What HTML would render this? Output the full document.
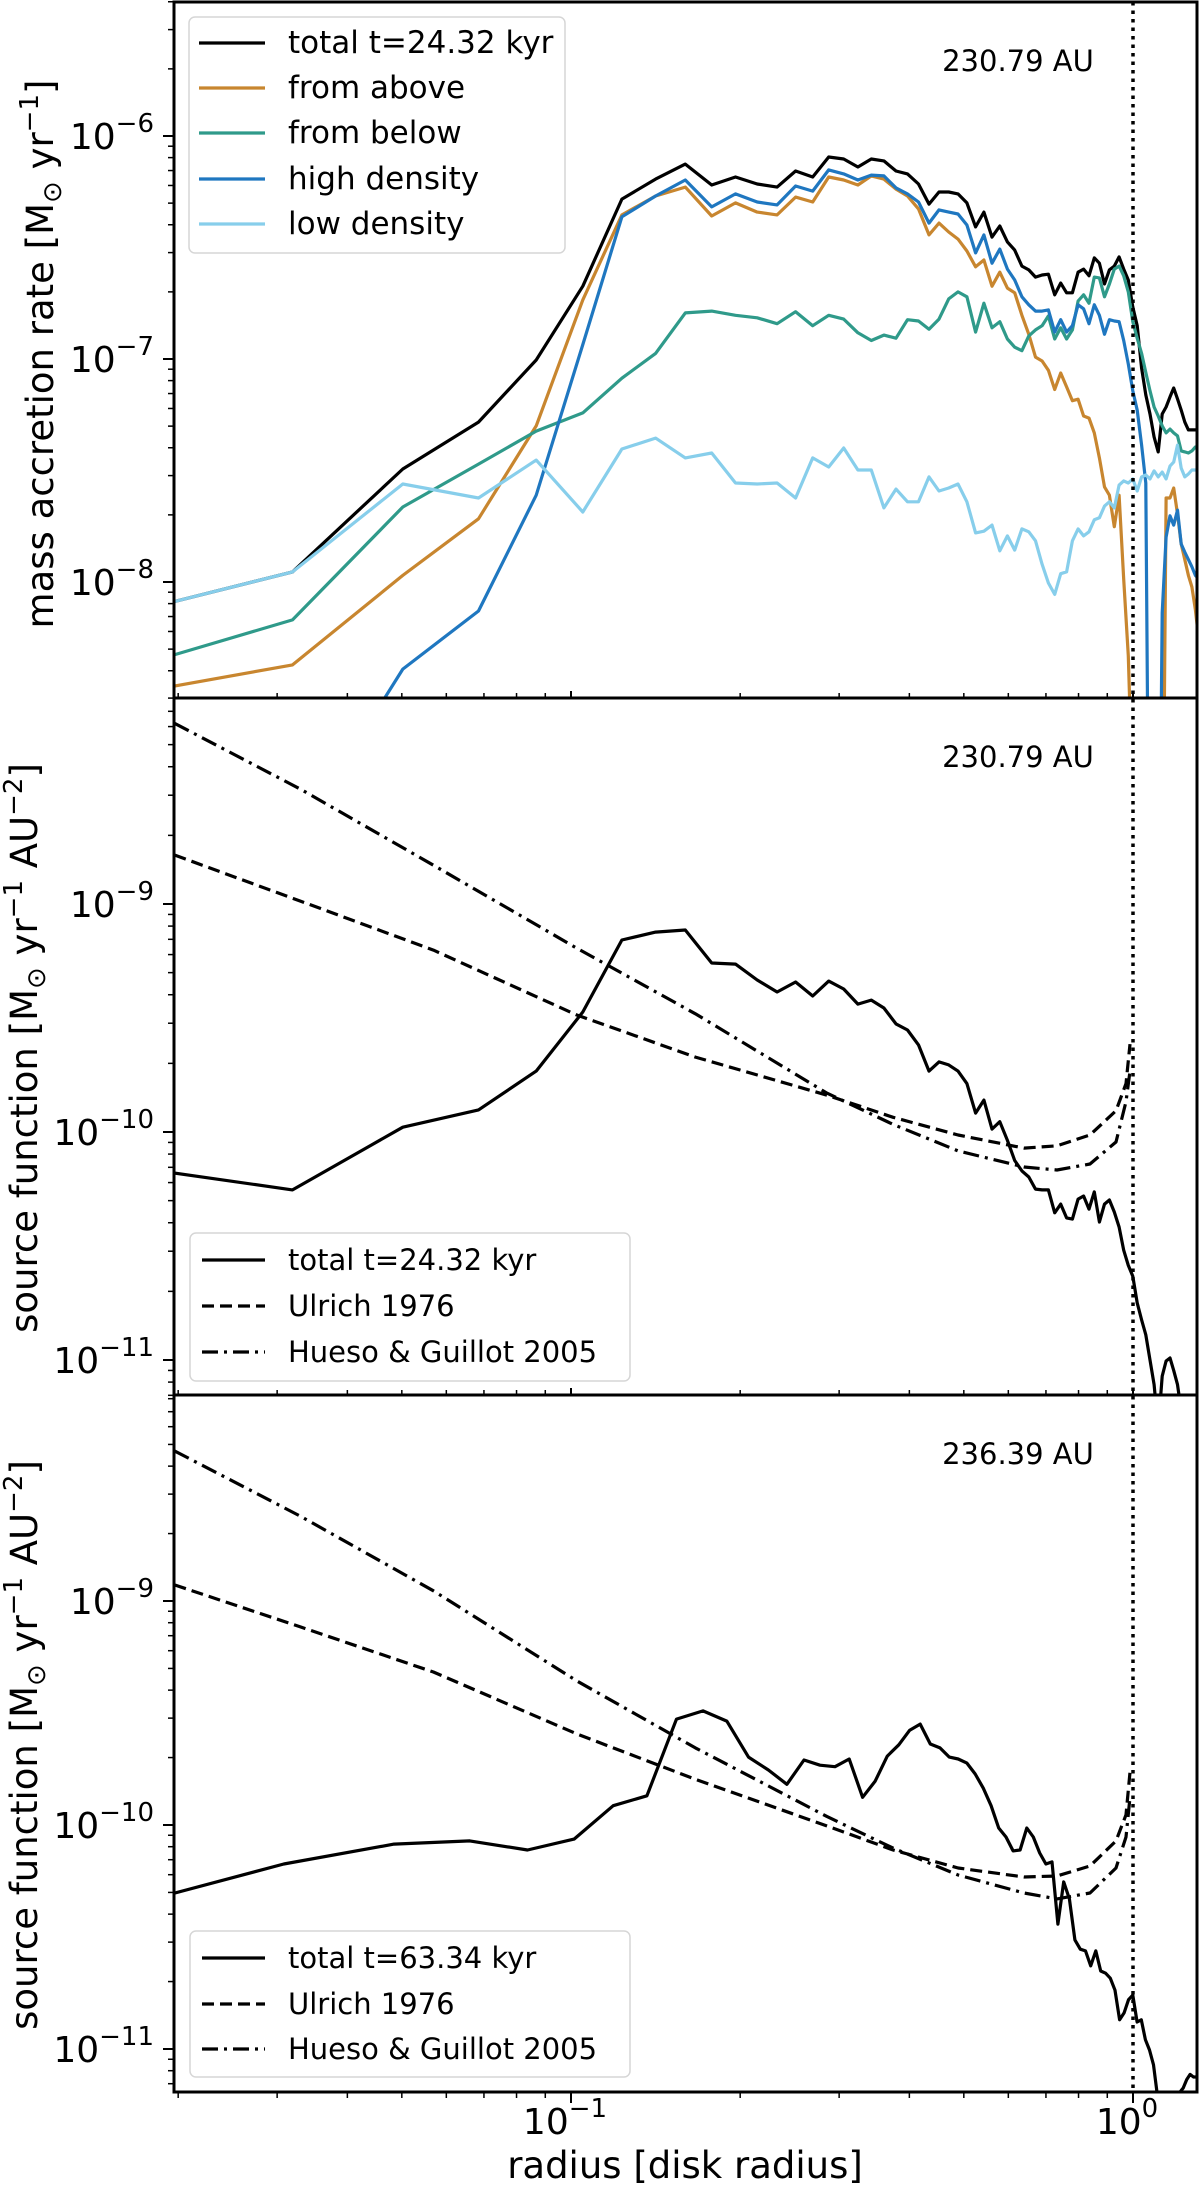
<!DOCTYPE html>
<html>
<head>
<meta charset="utf-8">
<style>
html,body{margin:0;padding:0;background:#fff;}
svg{display:block;}
text{font-family:"DejaVu Sans","Liberation Sans",sans-serif;fill:#000;}
</style>
</head>
<body>
<svg id="fig" xmlns="http://www.w3.org/2000/svg" width="1200" height="2186" viewBox="0 0 1200 2186">
  <rect x="0" y="0" width="1200" height="2186" fill="#fff"/>
  <defs>
    <clipPath id="clip0"><rect x="174" y="2" width="1023" height="696"/></clipPath>
    <clipPath id="clip1"><rect x="174" y="698" width="1023" height="697"/></clipPath>
    <clipPath id="clip2"><rect x="174" y="1395" width="1023" height="697"/></clipPath>
  </defs>
  <g id="series-layer"></g>
  <g id="axes-layer"></g>

  <text transform="translate(53,354) rotate(-90)" text-anchor="middle" font-size="37">mass accretion rate [M<tspan font-size="26" dy="8">⊙</tspan><tspan dy="-8"> yr</tspan><tspan font-size="26" dy="-15">−1</tspan><tspan dy="15">]</tspan></text>
  <text transform="translate(37,1048) rotate(-90)" text-anchor="middle" font-size="37">source function [M<tspan font-size="26" dy="8">⊙</tspan><tspan dy="-8"> yr</tspan><tspan font-size="26" dy="-15">−1</tspan><tspan dy="15"> AU</tspan><tspan font-size="26" dy="-15">−2</tspan><tspan dy="15">]</tspan></text>
  <text transform="translate(37,1745) rotate(-90)" text-anchor="middle" font-size="37">source function [M<tspan font-size="26" dy="8">⊙</tspan><tspan dy="-8"> yr</tspan><tspan font-size="26" dy="-15">−1</tspan><tspan dy="15"> AU</tspan><tspan font-size="26" dy="-15">−2</tspan><tspan dy="15">]</tspan></text>

  <text x="685" y="2178" text-anchor="middle" font-size="37">radius [disk radius]</text>

  <text x="1018" y="71" text-anchor="middle" font-size="29">230.79 AU</text>
  <text x="1018" y="767" text-anchor="middle" font-size="29">230.79 AU</text>
  <text x="1018" y="1464" text-anchor="middle" font-size="29">236.39 AU</text>

  <g>
    <rect x="189" y="17" width="376" height="236" rx="6" fill="#fff" fill-opacity="0.85" stroke="#d6d6d6" stroke-width="1.5"/>
    <g><line x1="199" y1="43" x2="265" y2="43" stroke="#000" stroke-width="3.2"/><text x="288" y="53" font-size="31">total t=24.32 kyr</text></g>
    <g><line x1="199" y1="88" x2="265" y2="88" stroke="#c8862f" stroke-width="3.2"/><text x="288" y="98" font-size="31">from above</text></g>
    <g><line x1="199" y1="133" x2="265" y2="133" stroke="#2f9a8a" stroke-width="3.2"/><text x="288" y="143" font-size="31">from below</text></g>
    <g><line x1="199" y1="179" x2="265" y2="179" stroke="#1f77c0" stroke-width="3.2"/><text x="288" y="189" font-size="31">high density</text></g>
    <g><line x1="199" y1="224" x2="265" y2="224" stroke="#87ceeb" stroke-width="3.2"/><text x="288" y="234" font-size="31">low density</text></g>
  </g>

  <g>
    <rect x="190" y="1233" width="440" height="148" rx="6" fill="#fff" fill-opacity="0.85" stroke="#d6d6d6" stroke-width="1.5"/>
    <g><line x1="202" y1="1260" x2="265" y2="1260" stroke="#000" stroke-width="3.2"/><text x="288" y="1270" font-size="29">total t=24.32 kyr</text></g>
    <g><line x1="202" y1="1306" x2="265" y2="1306" stroke="#000" stroke-width="3.2" stroke-dasharray="12,6"/><text x="288" y="1316" font-size="29">Ulrich 1976</text></g>
    <g><line x1="202" y1="1352" x2="265" y2="1352" stroke="#000" stroke-width="3.2" stroke-dasharray="16,6,3,6"/><text x="288" y="1362" font-size="29">Hueso &amp; Guillot 2005</text></g>
  </g>

  <g>
    <rect x="190" y="1931" width="440" height="146" rx="6" fill="#fff" fill-opacity="0.85" stroke="#d6d6d6" stroke-width="1.5"/>
    <g><line x1="202" y1="1958" x2="265" y2="1958" stroke="#000" stroke-width="3.2"/><text x="288" y="1968" font-size="29">total t=63.34 kyr</text></g>
    <g><line x1="202" y1="2004" x2="265" y2="2004" stroke="#000" stroke-width="3.2" stroke-dasharray="12,6"/><text x="288" y="2014" font-size="29">Ulrich 1976</text></g>
    <g><line x1="202" y1="2049" x2="265" y2="2049" stroke="#000" stroke-width="3.2" stroke-dasharray="16,6,3,6"/><text x="288" y="2059" font-size="29">Hueso &amp; Guillot 2005</text></g>
  </g>
</svg>

<script>
const radiusGrid = [0.0137,0.03195,0.0502,0.06845,0.0867,0.10495,0.1232,0.14145,0.1597,0.17795,0.1962,0.21445,0.2327,0.25095,0.2692,0.28745,0.3057,0.32395,0.3422,0.36045,0.3787,0.39695,0.4152,0.43345,0.4517,0.46995,0.4882,0.50645,0.5247,0.54295,0.5612,0.57945,0.5977,0.61595,0.6342,0.65245,0.6707,0.68895,0.7072,0.72545,0.7437,0.76195,0.7802,0.79845,0.8167,0.83495,0.8532,0.87145,0.8897,0.90795,0.9262,0.94445,0.9627,0.98095,0.9992,1.01745,1.0357,1.05395,1.0722,1.09045,1.1087,1.12695,1.1452,1.16345,1.1817,1.19995,1.2182,1.23645,1.2547,1.27295,1.2912,1.30945];

const accTotal = [6.5e-9,1.11e-8,3.21e-8,5.21e-8,9.9e-8,2.12e-7,5.21e-7,6.41e-7,7.48e-7,6.03e-7,6.55e-7,6.09e-7,5.90e-7,6.97e-7,6.55e-7,8.05e-7,7.89e-7,7.26e-7,7.89e-7,7.73e-7,6.97e-7,6.76e-7,6.09e-7,4.95e-7,5.61e-7,5.61e-7,5.50e-7,5.01e-7,3.91e-7,4.56e-7,3.52e-7,3.95e-7,3.35e-7,3.08e-7,2.61e-7,2.51e-7,2.33e-7,2.38e-7,2.40e-7,1.94e-7,2.19e-7,1.98e-7,1.98e-7,2.45e-7,2.53e-7,2.36e-7,2.84e-7,2.69e-7,2.17e-7,2.51e-7,2.61e-7,2.87e-7,2.53e-7,2.26e-7,1.71e-7,1.41e-7,9.1e-8,6.9e-8,5.67e-8,4.47e-8,3.83e-8,5.67e-8,6.09e-8,6.76e-8,7.41e-8,6.62e-8,5.90e-8,5.21e-8,4.81e-8,4.81e-8,4.81e-8,4.81e-8];

const accAbove = [2.9e-9,4.25e-9,1.07e-8,1.92e-8,5.01e-8,1.84e-7,4.43e-7,5.38e-7,5.90e-7,4.38e-7,5.01e-7,4.56e-7,4.43e-7,5.32e-7,5.06e-7,6.55e-7,6.35e-7,6.03e-7,6.62e-7,6.41e-7,5.78e-7,5.38e-7,4.71e-7,3.60e-7,4.07e-7,3.71e-7,3.45e-7,3.05e-7,2.59e-7,2.78e-7,2.12e-7,2.45e-7,2.08e-7,1.98e-7,1.57e-7,1.29e-7,1.02e-7,9.8e-8,8.9e-8,7.3e-8,8.65e-8,7.5e-8,6.5e-8,6.6e-8,5.55e-8,5.43e-8,4.66e-8,3.60e-8,2.67e-8,2.45e-8,1.77e-8,2.45e-8,1.03e-8,4.66e-9,1e-9,3e-10,1e-10,1e-10,1e-10,1e-10,1e-10,2e-10,2.38e-8,2.38e-8,2.64e-8,2.02e-8,1.48e-8,1.26e-8,1.07e-8,9.5e-9,7.5e-9,5.5e-9];

const accBelow = [3.6e-9,6.76e-9,2.17e-8,3.38e-8,4.75e-8,5.73e-8,8.2e-8,1.06e-7,1.61e-7,1.64e-7,1.57e-7,1.53e-7,1.44e-7,1.63e-7,1.41e-7,1.57e-7,1.51e-7,1.31e-7,1.21e-7,1.28e-7,1.24e-7,1.50e-7,1.48e-7,1.36e-7,1.51e-7,1.86e-7,2.00e-7,1.90e-7,1.32e-7,1.78e-7,1.38e-7,1.47e-7,1.23e-7,1.13e-7,1.09e-7,1.27e-7,1.35e-7,1.41e-7,1.56e-7,1.23e-7,1.38e-7,1.23e-7,1.35e-7,1.82e-7,1.94e-7,1.78e-7,2.33e-7,2.31e-7,1.90e-7,2.17e-7,2.53e-7,2.61e-7,2.36e-7,2.00e-7,1.47e-7,1.24e-7,1.06e-7,8.7e-8,7.2e-8,6.09e-8,5.55e-8,5.01e-8,4.66e-8,4.85e-8,4.66e-8,4.52e-8,3.87e-8,3.83e-8,3.79e-8,3.87e-8,4.03e-8,4.03e-8];

const accHigh = [1e-10,6.6e-10,4.07e-9,7.41e-9,2.45e-8,1.16e-7,4.34e-7,5.38e-7,6.35e-7,4.81e-7,5.50e-7,5.06e-7,4.91e-7,5.97e-7,5.66e-7,7.05e-7,6.76e-7,6.35e-7,6.68e-7,6.62e-7,5.85e-7,5.50e-7,5.06e-7,4.07e-7,4.66e-7,4.56e-7,4.47e-7,3.99e-7,2.99e-7,3.60e-7,2.69e-7,3.11e-7,2.53e-7,2.26e-7,1.90e-7,1.75e-7,1.64e-7,1.64e-7,1.66e-7,1.32e-7,1.50e-7,1.32e-7,1.41e-7,1.75e-7,1.68e-7,1.44e-7,1.75e-7,1.57e-7,1.29e-7,1.50e-7,1.48e-7,1.47e-7,1.21e-7,9.5e-8,7.2e-8,5.9e-8,4.11e-8,2.78e-8,1e-10,1e-10,1e-10,7.26e-9,1.59e-8,1.98e-8,1.80e-8,2.10e-8,1.48e-8,1.36e-8,1.26e-8,1.17e-8,1.07e-8,1.03e-8];

const accLow = [6.5e-9,1.11e-8,2.75e-8,2.38e-8,3.52e-8,2.06e-8,3.95e-8,4.42e-8,3.60e-8,3.79e-8,2.78e-8,2.75e-8,2.78e-8,2.38e-8,3.60e-8,3.28e-8,3.99e-8,3.18e-8,3.18e-8,2.15e-8,2.61e-8,2.29e-8,2.29e-8,2.96e-8,2.56e-8,2.64e-8,2.75e-8,2.29e-8,1.66e-8,1.69e-8,1.80e-8,1.38e-8,1.61e-8,1.39e-8,1.73e-8,1.68e-8,1.53e-8,1.20e-8,9.9e-9,8.8e-9,1.09e-8,1.11e-8,1.53e-8,1.73e-8,1.61e-8,1.68e-8,1.90e-8,1.94e-8,2.19e-8,2.29e-8,2.15e-8,2.72e-8,2.84e-8,2.78e-8,2.90e-8,2.56e-8,2.96e-8,3.02e-8,2.90e-8,3.15e-8,2.96e-8,3.11e-8,2.90e-8,3.31e-8,3.45e-8,4.11e-8,3.24e-8,2.96e-8,3.05e-8,3.18e-8,3.18e-8,3.18e-8];

const srcTotalEarly = [7.5e-11,5.57e-11,1.05e-10,1.25e-10,1.85e-10,3.36e-10,6.95e-10,7.53e-10,7.69e-10,5.51e-10,5.45e-10,4.64e-10,4.11e-10,4.55e-10,3.95e-10,4.59e-10,4.24e-10,3.64e-10,3.79e-10,3.50e-10,2.98e-10,2.80e-10,2.41e-10,1.85e-10,2.03e-10,1.97e-10,1.85e-10,1.63e-10,1.21e-10,1.38e-10,1.03e-10,1.11e-10,9.2e-11,7.5e-11,6.75e-11,6.35e-11,5.62e-11,5.57e-11,5.57e-11,4.42e-11,4.83e-11,4.20e-11,4.15e-11,5.08e-11,5.24e-11,4.59e-11,5.46e-11,4.03e-11,4.83e-11,5.03e-11,4.46e-11,3.83e-11,3.03e-11,2.6e-11,2.33e-11,1.78e-11,1.50e-11,1.29e-11,1.0e-11,7.8e-12,5e-12,8.5e-12,9.9e-12,1.02e-11,9.0e-12,7.8e-12,6.0e-12,4e-12,4e-12,4e-12,4e-12,4e-12];

const radiusGridLate = [0.01322,0.03083,0.04844,0.06605,0.08366,0.10127,0.11888,0.13649,0.1541,0.17171,0.18932,0.20693,0.22454,0.24215,0.25976,0.27737,0.29498,0.31259,0.3302,0.34781,0.36542,0.38303,0.40064,0.41825,0.43586,0.45347,0.47108,0.48869,0.5063,0.52391,0.54152,0.55913,0.57674,0.59435,0.61196,0.62957,0.64718,0.66479,0.6824,0.70001,0.71762,0.73523,0.75284,0.77045,0.78806,0.80567,0.82328,0.84089,0.8585,0.87611,0.89372,0.91133,0.92894,0.94655,0.96416,0.98177,0.99938,1.01699,1.0346,1.05221,1.06982,1.08743,1.10504,1.12265,1.14026,1.15787,1.17548,1.19309,1.2107,1.22831,1.24592,1.26353,1.28114,1.29875];

const srcTotalLate = [3.80e-11,6.70e-11,8.22e-11,8.49e-11,7.73e-11,8.65e-11,1.22e-10,1.35e-10,2.97e-10,3.23e-10,2.91e-10,2.01e-10,1.76e-10,1.52e-10,1.95e-10,1.85e-10,1.82e-10,1.97e-10,1.33e-10,1.57e-10,2.03e-10,2.28e-10,2.65e-10,2.82e-10,2.30e-10,2.21e-10,2.01e-10,1.97e-10,1.89e-10,1.69e-10,1.46e-10,1.22e-10,9.7e-11,8.84e-11,7.66e-11,7.73e-11,9.7e-11,8.84e-11,7.50e-11,6.70e-11,6.84e-11,3.61e-11,5.57e-11,4.68e-11,3.07e-11,2.79e-11,2.74e-11,2.35e-11,2.74e-11,2.23e-11,2.18e-11,2.07e-11,1.83e-11,1.35e-11,1.45e-11,1.66e-11,1.74e-11,1.32e-11,1.35e-11,1.10e-11,9.9e-12,8.5e-12,6.2e-12,4e-12,4e-12,4e-12,4e-12,4e-12,6.4e-12,6.7e-12,7.3e-12,7.7e-12,7.5e-12,7.5e-12];

const modelRadius = [0.0197,0.033,0.0569,0.1024,0.1665,0.2856,0.3742,0.4885,0.6399,0.7324,0.8386,0.9328,0.9718,0.9878];
const ulrichEarly = [1.64e-9,1.03e-9,6.28e-10,3.26e-10,2.13e-10,1.45e-10,1.16e-10,9.7e-11,8.5e-11,8.7e-11,9.7e-11,1.24e-10,1.63e-10,2.43e-10];
const huesoEarly  = [6.2e-9,3.19e-9,1.48e-9,6.4e-10,3.3e-10,1.48e-10,1.08e-10,8.26e-11,7.02e-11,6.81e-11,7.24e-11,9.04e-11,1.36e-10,1.85e-10];
const ulrichLate  = [1.18e-9,7.66e-10,4.82e-10,2.55e-10,1.60e-10,9.9e-11,7.73e-11,6.43e-11,5.86e-11,5.92e-11,6.56e-11,8.49e-11,1.11e-10,1.72e-10];
const huesoLate   = [4.68e-9,2.39e-9,1.11e-9,4.40e-10,2.21e-10,1.09e-10,7.89e-11,5.98e-11,4.97e-11,4.68e-11,4.97e-11,6.43e-11,8.84e-11,1.33e-10];

const yTickExpTop = [-6,-7,-8];
const yTickExpSrc = [-9,-10,-11];
const xTickMajor = [0.1,1];
const xTickLabels = ["−1","0"];
const diskEdge = 1.0;

const NS = "http://www.w3.org/2000/svg";
const PLOT_L = 174, PLOT_R = 1197;
function xPx(r){ return 1133 + 562*Math.log10(r); }
const panels = [
  {top:2,    bottom:698,  y0:136,  e0:-6, k:223, clip:"clip0", minExp:-9,  maxExp:-5},
  {top:698,  bottom:1395, y0:904,  e0:-9, k:228, clip:"clip1", minExp:-12, maxExp:-8},
  {top:1395, bottom:2092, y0:1601, e0:-9, k:224, clip:"clip2", minExp:-12, maxExp:-8}
];
function yPx(p, v){ return p.y0 - p.k*(Math.log10(v) - p.e0); }

const seriesLayer = document.getElementById('series-layer');
const axesLayer = document.getElementById('axes-layer');

function mk(tag, attrs, parent){
  const el = document.createElementNS(NS, tag);
  for (const k in attrs) el.setAttribute(k, attrs[k]);
  parent.appendChild(el);
  return el;
}

function drawSeries(p, xs, ys, color, dash, name){
  let d = "";
  for (let i = 0; i < xs.length; i++){
    d += (i ? "L" : "M") + xPx(xs[i]).toFixed(1) + "," + yPx(p, ys[i]).toFixed(1);
  }
  const el = mk('path', {d:d, fill:"none", stroke:color, "stroke-width":"3.2", "stroke-linejoin":"round", "clip-path":"url(#"+p.clip+")"}, seriesLayer);
  if (dash) el.setAttribute('stroke-dasharray', dash);
  
  
}

drawSeries(panels[0], radiusGrid, accTotal, "#000000", null, "total-accretion-line");
drawSeries(panels[0], radiusGrid, accAbove, "#c8862f", null, "from-above-line");
drawSeries(panels[0], radiusGrid, accBelow, "#2f9a8a", null, "from-below-line");
drawSeries(panels[0], radiusGrid, accHigh,  "#1f77c0", null, "high-density-line");
drawSeries(panels[0], radiusGrid, accLow,   "#87ceeb", null, "low-density-line");

drawSeries(panels[1], radiusGrid, srcTotalEarly, "#000", null, "total-source-line-early");
drawSeries(panels[1], modelRadius, ulrichEarly, "#000", "12,6", "ulrich-line-early");
drawSeries(panels[1], modelRadius, huesoEarly,  "#000", "16,6,3,6", "hueso-guillot-line-early");

drawSeries(panels[2], radiusGridLate, srcTotalLate, "#000", null, "total-source-line-late");
drawSeries(panels[2], modelRadius, ulrichLate, "#000", "12,6", "ulrich-line-late");
drawSeries(panels[2], modelRadius, huesoLate,  "#000", "16,6,3,6", "hueso-guillot-line-late");

const dl = mk('line', {x1:xPx(diskEdge), x2:xPx(diskEdge), y1:2, y2:2092, stroke:"#000", "stroke-width":"3.5", "stroke-dasharray":"3.5,5"}, seriesLayer);



panels.forEach(function(p, pi){
  const frame = mk('rect', {x:PLOT_L, y:p.top, width:PLOT_R-PLOT_L, height:p.bottom-p.top, fill:"none", stroke:"#000", "stroke-width":"3"}, axesLayer);
  
  
  const exps = (pi === 0) ? yTickExpTop : yTickExpSrc;
  for (let e = p.minExp; e <= p.maxExp; e++){
    for (let m = 1; m <= 9; m++){
      const v = m*Math.pow(10, e);
      const y = yPx(p, v);
      if (y < p.top - 0.5 || y > p.bottom + 0.5) continue;
      const major = (m === 1);
      const t = mk('line', {x1:PLOT_L - (major ? 11 : 6), x2:PLOT_L, y1:y, y2:y, stroke:"#000", "stroke-width": major ? "2" : "1.5"}, axesLayer);
      
      
    }
  }
  exps.forEach(function(e){
    const y = yPx(p, Math.pow(10, e));
    const tx = mk('text', {x:154, y:(y+13).toFixed(1), "text-anchor":"end", "font-size":"36"}, axesLayer);
    
    
    tx.appendChild(document.createTextNode("10"));
    const sup = mk('tspan', {"font-size":"26", dy:"-17"}, tx);
    sup.textContent = "−" + String(-e);
  });
  const isBottom = (pi === 2);
  for (let e = -2; e <= 0; e++){
    for (let m = 1; m <= 9; m++){
      const r = m*Math.pow(10, e);
      const x = xPx(r);
      if (x < PLOT_L - 0.5 || x > PLOT_R + 0.5) continue;
      const major = (m === 1);
      const len = isBottom ? (major ? 11 : 6) : (major ? 7 : 5);
      const y1 = p.bottom;
      const y2 = isBottom ? p.bottom + len : p.bottom - len;
      const t = mk('line', {x1:x, x2:x, y1:y1, y2:y2, stroke:"#000", "stroke-width": major ? "2" : "1.5"}, axesLayer);
      
      
    }
  }
});

xTickMajor.forEach(function(r, i){
  const tx = mk('text', {x:(xPx(r)-6).toFixed(1), y:"2134", "text-anchor":"middle", "font-size":"36"}, axesLayer);
  
  
  tx.appendChild(document.createTextNode("10"));
  const sup = mk('tspan', {"font-size":"26", dy:"-17"}, tx);
  sup.textContent = xTickLabels[i];
});
</script>
</body>
</html>
